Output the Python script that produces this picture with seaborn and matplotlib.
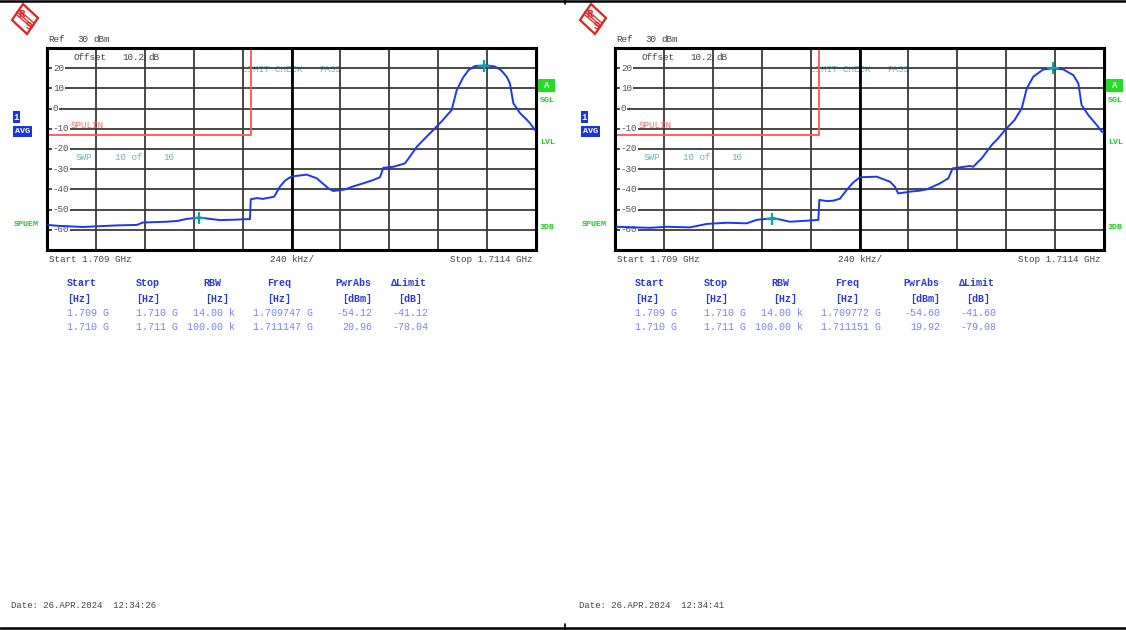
import numpy as np
import pandas as pd
import matplotlib
matplotlib.use("Agg")
import matplotlib.pyplot as plt
from matplotlib.lines import Line2D
from matplotlib.patches import Polygon, Rectangle
import seaborn as sns

# Trace data (freq in MHz, level in dBm)
left_freq = [1709.005, 1709.05, 1709.09, 1709.177, 1709.26, 1709.35, 1709.44, 1709.471, 1709.53,
             1709.589, 1709.64, 1709.687, 1709.746, 1709.80, 1709.849, 1709.92, 1709.987,
             1709.996, 1710.0, 1710.03, 1710.06, 1710.09, 1710.115, 1710.144, 1710.17, 1710.201,
             1710.275, 1710.324, 1710.381, 1710.405, 1710.463, 1710.50, 1710.552, 1710.60,
             1710.634, 1710.651, 1710.70, 1710.741, 1710.757, 1710.79, 1710.815, 1710.86,
             1710.896, 1710.94, 1710.986, 1711.011, 1711.043, 1711.07, 1711.101, 1711.158,
             1711.199, 1711.23, 1711.256, 1711.272, 1711.289, 1711.322, 1711.35, 1711.371,
             1711.395]
left_level = [-57.6, -58.0, -58.2, -58.6, -58.2, -57.8, -57.6, -56.4, -56.2,
              -56.0, -55.6, -54.6, -53.9, -54.6, -55.2, -55.0, -54.7,
              -54.8, -44.9, -44.3, -44.7, -44.1, -43.6, -38.5, -35.5, -33.6,
              -32.7, -34.5, -39.5, -40.8, -40.0, -38.6, -37.0, -35.4,
              -34.0, -29.3, -28.8, -27.6, -27.1, -22.5, -18.9, -14.2,
              -10.6, -6.0, -0.7, 9.2, 15.5, 19.2, 21.1, 21.4,
              20.8, 18.9, 15.8, 12.5, 2.6, -2.3, -5.0, -7.3,
              -10.6]

right_freq = [1709.008, 1709.09, 1709.172, 1709.254, 1709.368, 1709.450, 1709.548, 1709.646,
              1709.695, 1709.777, 1709.859, 1709.941, 1709.998, 1710.003, 1710.04, 1710.071,
              1710.104, 1710.137, 1710.17, 1710.202, 1710.284, 1710.350, 1710.374, 1710.390,
              1710.448, 1710.49, 1710.530, 1710.595, 1710.636, 1710.657, 1710.742, 1710.758,
              1710.800, 1710.849, 1710.88, 1710.914, 1710.96, 1710.996, 1711.021, 1711.053,
              1711.102, 1711.151, 1711.200, 1711.249, 1711.274, 1711.290, 1711.323, 1711.364,
              1711.389, 1711.4]
right_level = [-58.5, -58.8, -59.0, -58.5, -58.8, -57.1, -56.5, -56.8,
               -55.1, -54.2, -56.0, -55.5, -55.1, -45.2, -45.8, -45.6,
               -44.6, -40.3, -36.5, -34.0, -33.7, -36.2, -38.7, -42.0,
               -41.1, -40.7, -40.0, -37.0, -34.5, -29.6, -28.4, -28.8,
               -24.6, -18.0, -14.8, -10.6, -5.8, 0.1, 10.0, 15.8,
               19.4, 19.9, 19.4, 16.6, 12.5, 1.8, -3.2, -8.1,
               -11.4, -12.0]

# limit line (SPULIN): -13 dBm up to 1.710 GHz, then 86 dBm (off screen)
limit_freq = [1709.0, 1710.0, 1710.0]
limit_level = [-13.0, -13.0, 86.0]

# marker positions from the marker table
left_marker_freq = [1709.747, 1711.147]
left_marker_level = [-54.12, 20.96]
right_marker_freq = [1709.772, 1711.151]
right_marker_level = [-54.60, 19.92]

y_labels = [20, 10, 0, -10, -20, -30, -40, -50, -60]

table_headers = ["Start", "Stop", "RBW", "Freq", "PwrAbs", "\u0394Limit"]
table_units = ["[Hz]", "[Hz]", "[Hz]", "[Hz]", "[dBm]", "[dB]"]
left_rows = [["1.709 G", "1.710 G", "14.00 k", "1.709747 G", "-54.12", "-41.12"],
             ["1.710 G", "1.711 G", "100.00 k", "1.711147 G", "20.96", "-78.04"]]
right_rows = [["1.709 G", "1.710 G", "14.00 k", "1.709772 G", "-54.60", "-41.60"],
              ["1.710 G", "1.711 G", "100.00 k", "1.711151 G", "19.92", "-79.08"]]
dates = ["Date: 26.APR.2024  12:34:26", "Date: 26.APR.2024  12:34:41"]

sns.set_theme(style="white")
plt.rcParams['font.family'] = ['Liberation Mono', 'DejaVu Sans']

W, H = 1126, 630
fig = plt.figure(figsize=(W / 100, H / 100), dpi=100)
fig.patch.set_facecolor("white")


def ftext(x, y, s, **kw):
    kw.setdefault("va", "center")
    kw.setdefault("fontsize", 6.7)
    return fig.text(x / W, 1 - y / H, s, **kw)


def fp(x, y):
    return (x / W, 1 - y / H)


def fline(p0, p1, **kw):
    a, b = fp(*p0), fp(*p1)
    fig.add_artist(Line2D([a[0], b[0]], [a[1], b[1]], **kw))


TRACE = "#1f35f5"
GREEN = "#22cc22"
TEAL = "#66b8b8"
HEAD = "#2a3ad8"
VAL = "#7585f0"
GREY = "#555555"
RED = "#dd2222"

panels = [(0, left_freq, left_level, left_marker_freq, left_marker_level, left_rows, dates[0]),
          (568, right_freq, right_level, right_marker_freq, right_marker_level, right_rows, dates[1])]

for dx, freq, level, mfreq, mlevel, rows, date in panels:
    ax = fig.add_axes([(47 + dx) / W, 1 - 250 / H, 489 / W, 202 / H])
    ax.set_xlim(1709.0, 1711.4)
    ax.set_ylim(-70, 30)
    ax.set_xticks(np.arange(1709.0, 1711.41, 0.24))
    ax.set_yticks(np.arange(-70, 31, 10))
    ax.set_xticklabels([])
    ax.set_yticklabels([])
    ax.tick_params(length=0)
    ax.set_axisbelow(True)
    ax.grid(True, color="#3a3a3a", linewidth=1.3)
    ax.axvline(1710.2, color="black", linewidth=2.0, zorder=0.6)
    for sp in ax.spines.values():
        sp.set_linewidth(2.2)
        sp.set_color("black")

    for v in y_labels:
        ax.text(0.012, v, "%d" % v, transform=ax.get_yaxis_transform(), fontsize=6.7,
                color=GREY, va="center", ha="left", zorder=1.5,
                bbox=dict(facecolor="white", edgecolor="none", pad=0.6))

    df = pd.DataFrame({"freq": freq, "level": level})
    sns.lineplot(data=df, x="freq", y="level", ax=ax, color=TRACE, linewidth=1.4,
                 estimator=None, sort=False, zorder=3)
    lim = pd.DataFrame({"freq": limit_freq, "level": limit_level})
    sns.lineplot(data=lim, x="freq", y="level", ax=ax, color="#ff5555", linewidth=1.3,
                 estimator=None, sort=False, zorder=2)
    mk = pd.DataFrame({"freq": mfreq, "level": mlevel})
    sns.scatterplot(data=mk, x="freq", y="level", ax=ax, marker="+", s=80,
                    color="#10a0a8", linewidth=1.6, zorder=4)
    ax.set_xlabel("")
    ax.set_ylabel("")

    # annotations inside the graticule
    ax.text((242 - 47) / 489, (250 - 69) / 202, "LIMIT CHECK", transform=ax.transAxes,
            fontsize=6.7, color=TEAL, va="center", zorder=0.3)
    ax.text((319 - 47) / 489, (250 - 69) / 202, "PASS", transform=ax.transAxes,
            fontsize=6.7, color=TEAL, va="center", zorder=0.3)
    ax.text((71 - 47) / 489, (250 - 126) / 202, "SPULIN", transform=ax.transAxes,
            fontsize=6.7, color="#ff6a6a", va="center", zorder=1.6)
    for xx, s in [(76, "SWP"), (115, "10 of"), (163, "10")]:
        ax.text((xx - 47) / 489, (250 - 157) / 202, s, transform=ax.transAxes,
                fontsize=6.7, color=TEAL, va="center", zorder=1.6)
    for xx, s in [(74, "Offset"), (122, "10.2"), (148, "dB")]:
        ax.text((xx - 47) / 489, (250 - 57) / 202, s, transform=ax.transAxes,
                fontsize=6.7, color="#444444", va="center", zorder=0.3)

    # header above graticule
    ftext(48 + dx, 40, "Ref", color="#444444")
    ftext(77 + dx, 40, "30", color="#444444")
    ftext(93 + dx, 40, "dBm", color="#444444")

    # R&S logo
    cx, cy = 25 + dx, 19
    fig.add_artist(Polygon([fp(cx - 2, cy - 15), fp(cx + 13, cy - 1), fp(cx + 2, cy + 15),
                            fp(cx - 13, cy + 1)], closed=True, fill=False,
                           edgecolor=RED, linewidth=1.6))
    fline((cx - 8, cy - 7), (cx + 8, cy + 7), color=RED, linewidth=0.9)
    fline((cx - 8, cy - 4), (cx + 7, cy + 9), color=RED, linewidth=0.9)
    fline((cx - 6, cy - 9), (cx + 9, cy + 4), color=RED, linewidth=0.9)
    ftext(cx - 4, cy - 5, "R", color=RED, fontsize=7.5, fontweight="bold", ha="center")
    ftext(cx + 4, cy + 7, "S", color=RED, fontsize=7.5, fontweight="bold", ha="center")

    # side labels
    fig.add_artist(Rectangle(fp(13 + dx, 123), 7 / W, 12 / H, facecolor="#1a33dd",
                             edgecolor="none"))
    ftext(16.5 + dx, 117, "1", color="white", fontsize=6.5, fontweight="bold", ha="center")
    fig.add_artist(Rectangle(fp(13 + dx, 137), 19 / W, 11 / H, facecolor="#1a33dd",
                             edgecolor="none"))
    ftext(22.5 + dx, 131.5, "AVG", color="white", fontsize=6, fontweight="bold", ha="center")
    ftext(14 + dx, 224, "SPUEM", color=GREEN, fontsize=6, fontweight="bold")

    fig.add_artist(Rectangle(fp(538 + dx, 92), 17 / W, 13 / H, facecolor="#22dd22",
                             edgecolor="none"))
    ftext(546.5 + dx, 85.5, "A", color="white", fontsize=6.5, fontweight="bold", ha="center")
    ftext(540 + dx, 100, "SGL", color=GREEN, fontsize=6, fontweight="bold")
    ftext(540 + dx, 143, "LVL", color=GREEN, fontsize=6, fontweight="bold")
    ftext(540 + dx, 227, "3DB", color=GREEN, fontsize=6, fontweight="bold")

    # frequency axis captions
    ftext(49 + dx, 260, "Start 1.709 GHz", color="#444444")
    ftext(270 + dx, 260, "240 kHz/", color="#444444")
    ftext(532 + dx, 260, "Stop 1.7114 GHz", color="#444444", ha="right")

    # marker table
    head_x = [66.7, 135.7, 203, 266.7, 335.7, 391]
    unit_x = [66.7, 135.7, 205, 266.7, 341.7, 397.7]
    val_x = [(66.7, "left"), (135.7, "left"), (235, "right"), (253.3, "left"),
             (372, "right"), (428, "right")]
    for hx, ux, h, u in zip(head_x, unit_x, table_headers, table_units):
        ftext(hx + dx, 283.5, h, color=HEAD, fontsize=7.2, fontweight="bold")
        ftext(ux + dx, 298.5, u, color=HEAD, fontsize=7.2, fontweight="bold")
    for ry, row in zip([312.5, 327.5], rows):
        for (vx, ha), s in zip(val_x, row):
            ftext(vx + dx, ry, s, color=VAL, fontsize=7.2, ha=ha)

    ftext(11 + dx, 605, date, color="#444444", fontsize=6.5)

# page borders
for yy in [1.2, 628.3]:
    fig.add_artist(Line2D([0, 1], [1 - yy / H, 1 - yy / H], color="black", linewidth=1.8))
fig.add_artist(Line2D([565 / W, 565 / W], [1, 1 - 4 / H], color="black", linewidth=1.2))
fig.add_artist(Line2D([565 / W, 565 / W], [1 - 624 / H, 0], color="black", linewidth=1.2))

fig.savefig("out.png", dpi=100)
